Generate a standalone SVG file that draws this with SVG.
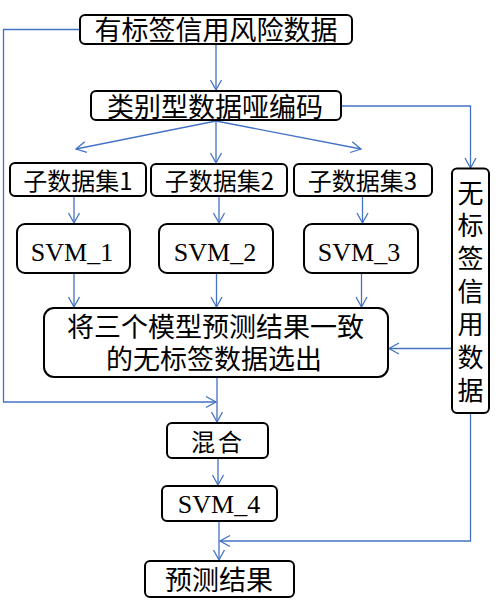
<svg xmlns="http://www.w3.org/2000/svg" width="500" height="608" viewBox="0 0 500 608">
<style>
.box{fill:#fff;stroke:#000;stroke-width:2}
.cn{font-family:"Noto Sans CJK SC","Noto Sans",sans-serif;fill:#000;text-anchor:middle}
.en{font-family:"Liberation Serif","Times New Roman",serif;fill:#000;text-anchor:middle;font-size:26px}
.c{fill:none;stroke:#4472C4;stroke-width:1.3}
</style>
<defs>
<marker id="ah" markerUnits="userSpaceOnUse" markerWidth="14" markerHeight="14" viewBox="0 0 14 14" refX="12" refY="7" orient="auto">
<path d="M2,1.5 L12,7 L2,12.5" fill="none" stroke="#4472C4" stroke-width="1.3"/>
</marker>
</defs>
<rect width="500" height="608" fill="#fff"/>
<g id="connectors">
<path class="c" d="M80,29.5 H3.5 V402 H216" marker-end="url(#ah)"/>
<path class="c" d="M216,44 V90" marker-end="url(#ah)"/>
<path class="c" d="M341,106 H470.5 V168" marker-end="url(#ah)"/>
<path class="c" d="M216,121 L76,149" marker-end="url(#ah)"/>
<path class="c" d="M216,121 V163" marker-end="url(#ah)"/>
<path class="c" d="M216,121 L361,149" marker-end="url(#ah)"/>
<path class="c" d="M74,196 V223" marker-end="url(#ah)"/>
<path class="c" d="M219,196 V223" marker-end="url(#ah)"/>
<path class="c" d="M362.5,196 V223" marker-end="url(#ah)"/>
<path class="c" d="M74,273 V307" marker-end="url(#ah)"/>
<path class="c" d="M216.5,273 V307" marker-end="url(#ah)"/>
<path class="c" d="M361.5,273 V307" marker-end="url(#ah)"/>
<path class="c" d="M452,348.5 H389" marker-end="url(#ah)"/>
<path class="c" d="M217,377 V422" marker-end="url(#ah)"/>
<path class="c" d="M218,458 V485" marker-end="url(#ah)"/>
<path class="c" d="M219,521 V560" marker-end="url(#ah)"/>
<path class="c" d="M470.5,413 V541 H220" marker-end="url(#ah)"/>
</g>
<g id="n1"><rect class="box" x="80" y="15" width="272" height="29" rx="5"/><text class="cn" x="216" y="40" font-size="27">有标签信用风险数据</text></g>
<g id="n2"><rect class="box" x="91" y="91" width="250" height="29" rx="5"/><text class="cn" x="215" y="117" font-size="27">类别型数据哑编码</text></g>
<g id="s1"><rect class="box" x="10" y="163" width="136" height="33" rx="5"/><text class="cn" x="78" y="190" font-size="24">子数据集1</text></g>
<g id="s2"><rect class="box" x="151" y="164" width="136" height="32" rx="5"/><text class="cn" x="219.5" y="190" font-size="24">子数据集2</text></g>
<g id="s3"><rect class="box" x="294" y="164" width="138" height="32" rx="5"/><text class="cn" x="362.5" y="190" font-size="24">子数据集3</text></g>
<g id="unlabeled"><rect class="box" x="452" y="168.5" width="37" height="244.5" rx="5"/>
<text class="cn" x="470.5" font-size="26"><tspan x="470.5" y="202.5">无</tspan><tspan x="470.5" y="235.4">标</tspan><tspan x="470.5" y="268.3">签</tspan><tspan x="470.5" y="301.2">信</tspan><tspan x="470.5" y="334.2">用</tspan><tspan x="470.5" y="367.1">数</tspan><tspan x="470.5" y="400">据</tspan></text></g>
<g id="svm1"><rect class="box" x="17" y="224" width="113" height="49" rx="8"/><text class="en" x="72" y="261">SVM_1</text></g>
<g id="svm2"><rect class="box" x="159" y="224" width="114" height="49" rx="8"/><text class="en" x="215" y="261">SVM_2</text></g>
<g id="svm3"><rect class="box" x="304" y="224" width="114" height="49" rx="8"/><text class="en" x="359" y="261">SVM_3</text></g>
<g id="select"><rect class="box" x="44" y="308" width="344" height="69" rx="10"/>
<text class="cn" font-size="27"><tspan x="215.5" y="337">将三个模型预测结果一致</tspan><tspan x="214" y="369">的无标签数据选出</tspan></text></g>
<g id="mix"><rect class="box" x="167" y="423" width="101" height="35" rx="5"/><text class="cn" x="218" y="451" font-size="24" letter-spacing="3">混合</text></g>
<g id="svm4"><rect class="box" x="162" y="486" width="115" height="35" rx="5"/><text class="en" x="219" y="513">SVM_4</text></g>
<g id="result"><rect class="box" x="145" y="561" width="149" height="36" rx="5"/><text class="cn" x="219" y="590" font-size="27">预测结果</text></g>
</svg>
